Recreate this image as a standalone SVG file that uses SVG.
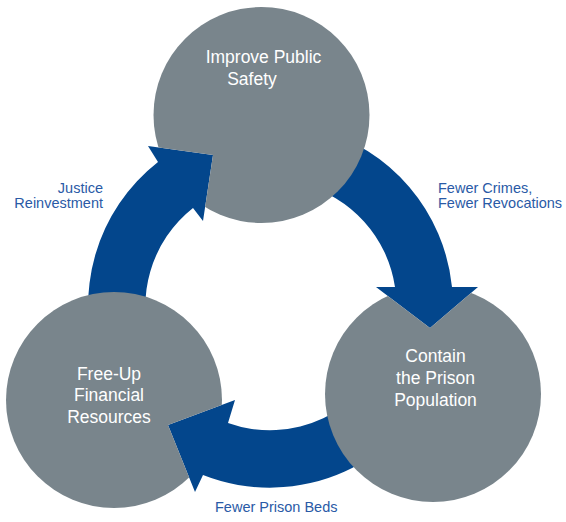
<svg xmlns="http://www.w3.org/2000/svg" xmlns:xlink="http://www.w3.org/1999/xlink" width="566" height="522" viewBox="0 0 566 522">
  <style>
    .circ { fill: #79858c; }
    .ntext { fill: #ffffff; font-family: "Liberation Sans", Arial, sans-serif; font-size: 17.5px; text-anchor: middle; }
    .arrow { fill: #03468c; }
    .label { fill: #2a5aa6; font-family: "Liberation Sans", Arial, sans-serif; font-size: 14.5px; }
  </style>
  <defs>
    <path id="a1" d="M317.1 129.2 A182 182 0 0 1 452 287 L478 287 L430 328 L376 287 L395 287 A125 125 0 0 0 302.4 184.3 Z"/>
    <path id="a2" d="M441 367.2 A182 182 0 0 1 203 475 L195 492 L168 425 L235 400 L228 423 A125 125 0 0 0 387.5 347.8 Z"/>
    <path id="a3" d="M99 367.2 A182 182 0 0 1 158 162 L148 146 L213 155 L203 221 L193 208 A125 125 0 0 0 152.5 347.8 Z"/>
    <mask id="m-top" maskUnits="userSpaceOnUse" x="0" y="0" width="566" height="522">
      <rect width="566" height="522" fill="#fff"/>
      <use xlink:href="#a3" fill="#000"/>
    </mask>
    <mask id="m-right" maskUnits="userSpaceOnUse" x="0" y="0" width="566" height="522">
      <rect width="566" height="522" fill="#fff"/>
      <use xlink:href="#a1" fill="#000"/>
    </mask>
    <mask id="m-left" maskUnits="userSpaceOnUse" x="0" y="0" width="566" height="522">
      <rect width="566" height="522" fill="#fff"/>
      <use xlink:href="#a2" fill="#000"/>
    </mask>
  </defs>
  <rect width="566" height="522" fill="#ffffff"/>
  <g id="connectors">
    <use xlink:href="#a1" class="arrow"/>
    <use xlink:href="#a2" class="arrow"/>
    <use xlink:href="#a3" class="arrow"/>
    <text class="label" x="103" y="193" text-anchor="end">Justice</text>
    <text class="label" x="103" y="207.5" text-anchor="end">Reinvestment</text>
    <text class="label" x="438" y="193">Fewer Crimes,</text>
    <text class="label" x="438" y="207.5">Fewer Revocations</text>
    <text class="label" x="215" y="512">Fewer Prison Beds</text>
  </g>
  <g id="node-safety">
    <circle class="circ" cx="261.5" cy="115" r="108" mask="url(#m-top)"/>
    <text class="ntext" x="263.5" y="63">Improve Public</text>
    <text class="ntext" x="252" y="85">Safety</text>
  </g>
  <g id="node-contain">
    <circle class="circ" cx="433" cy="394" r="108" mask="url(#m-right)"/>
    <text class="ntext" x="435.5" y="362">Contain</text>
    <text class="ntext" x="435.5" y="383.5">the Prison</text>
    <text class="ntext" x="435.5" y="405.5">Population</text>
  </g>
  <g id="node-freeup">
    <circle class="circ" cx="114" cy="400" r="108" mask="url(#m-left)"/>
    <text class="ntext" x="109" y="380">Free-Up</text>
    <text class="ntext" x="109" y="401">Financial</text>
    <text class="ntext" x="109" y="423">Resources</text>
  </g>
</svg>
